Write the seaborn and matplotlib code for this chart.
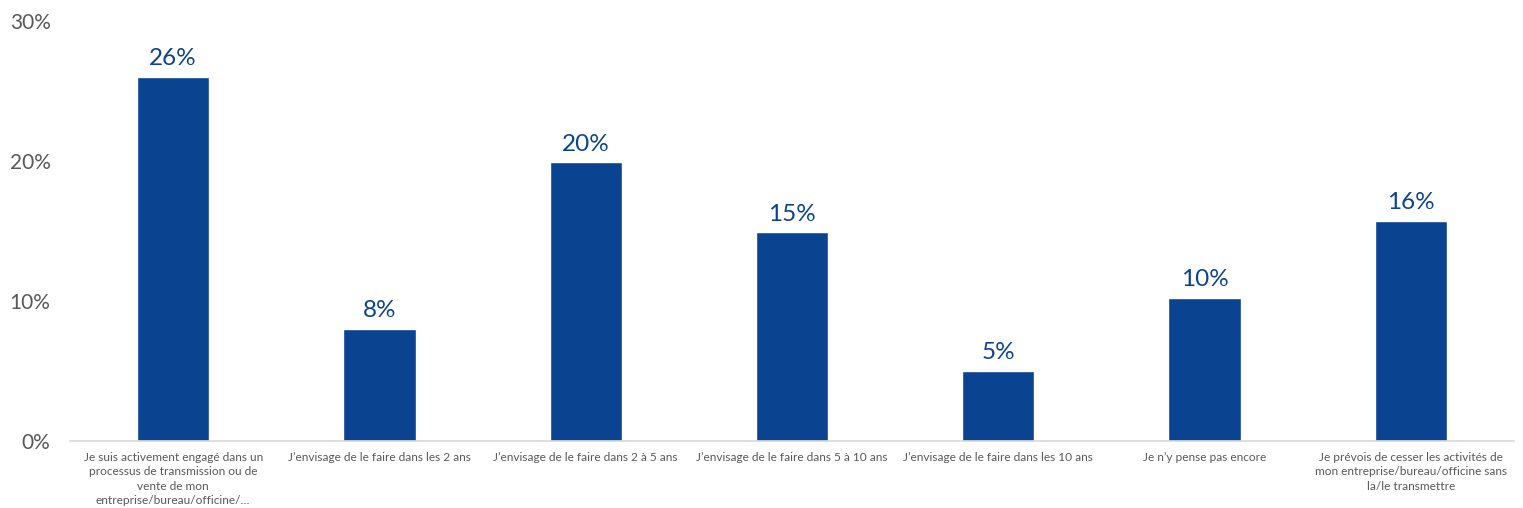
import matplotlib
matplotlib.use("Agg")
import matplotlib.pyplot as plt
import seaborn as sns
import pandas as pd

categories = [
    "Je suis activement engagé dans un\nprocessus de transmission ou de\nvente de mon\nentreprise/bureau/officine/…",
    "J’envisage de le faire dans les 2 ans",
    "J’envisage de le faire dans 2 à 5 ans",
    "J’envisage de le faire dans 5 à 10 ans",
    "J’envisage de le faire dans les 10 ans",
    "Je n’y pense pas encore",
    "Je prévois de cesser les activités de\nmon entreprise/bureau/officine sans\nla/le transmettre",
]
values = [26.0, 8.0, 19.9, 14.9, 5.0, 10.2, 15.7]
yticks = [0, 10, 20, 30]

bar_color = "#0A4491"
tick_color = "#595959"

sns.set_theme(style="white")
plt.rcParams["font.family"] = ["Lato", "DejaVu Sans"]

df = pd.DataFrame({"cat": categories, "val": values})

fig = plt.figure(figsize=(15.23, 5.08), dpi=100)
ax = fig.add_axes([0.046, 0.132, 0.948, 0.8267])

sns.barplot(data=df, x="cat", y="val", color=bar_color, width=0.35,
            saturation=1, ax=ax)

for i, v in enumerate(values):
    ax.text(i, v + 0.55, f"{v:.0f}%", ha="center", va="bottom",
            fontsize=17.5, color=bar_color)

ax.set_ylim(0, 30)
ax.set_xlim(-0.5, len(categories) - 0.5)
ax.set_yticks(yticks)
ax.set_yticklabels([f"{t}%" for t in yticks], fontsize=15, color=tick_color)
ax.tick_params(axis="y", length=0, pad=14)
ax.tick_params(axis="x", length=0, pad=8)
for lbl in ax.get_xticklabels():
    lbl.set_fontsize(8.6)
    lbl.set_color(tick_color)
    lbl.set_linespacing(1.38)
    lbl.set_va("top")
ax.set_xlabel("")
ax.set_ylabel("")

for side in ["top", "right", "left"]:
    ax.spines[side].set_visible(False)
ax.spines["bottom"].set_color("#D9D9D9")
ax.spines["bottom"].set_linewidth(1.2)
ax.grid(False)

fig.savefig("out.png", dpi=100)
